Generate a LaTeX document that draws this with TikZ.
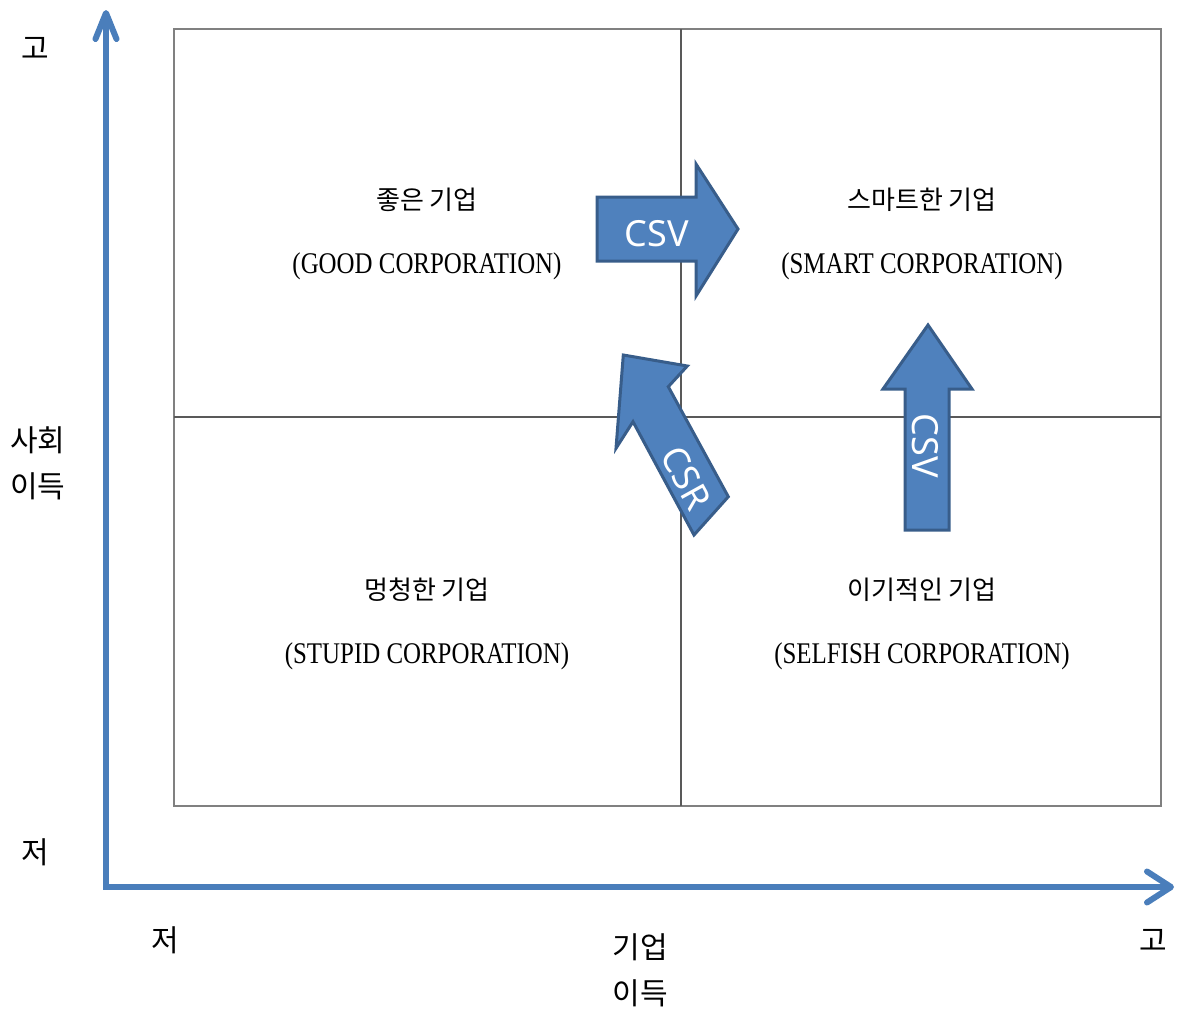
\documentclass[tikz,border=0pt]{standalone}
\usepackage{fontspec}
\setmainfont{Liberation Serif}
\newfontfamily\kr{Noto Sans CJK KR}
\newfontfamily\arw{Noto Sans}
\usetikzlibrary{arrows.meta}
\definecolor{bfill}{HTML}{4F81BD}
\definecolor{bline}{HTML}{385D8A}
\definecolor{axisblue}{HTML}{4A7EBB}
\tikzset{
  fatarrow/.style={fill=bfill, draw=bline, line width=3pt, line join=miter},
  arrowtext/.style={text=white, font=\arw\fontsize{36}{40}\selectfont, inner sep=0pt},
  axisline/.style={draw=axisblue, line width=6pt, line join=miter,
    {Straight Barb[length=26pt,width=21pt,line cap=round,line join=round]}-{Straight Barb[length=24pt,width=31pt,line cap=round,line join=round]}},
  outerbox/.style={draw=black!50, line width=1.5pt},
  grid/.style={draw=black!65, line width=1.5pt},
  krlab/.style={font=\kr\fontsize{26}{30}\selectfont, inner sep=0pt},
  enlab/.style={font=\fontsize{30}{34}\selectfont, inner sep=0pt, xscale=0.83},
  axlab/.style={font=\kr\fontsize{30}{46}\selectfont, inner sep=0pt, align=center}
}
\begin{document}
\begin{tikzpicture}[x=1pt,y=-1pt]
\useasboundingbox (0,0) rectangle (1181,1017);
% quadrant grid
\coordinate (BL) at (174,806);
\coordinate (TR) at (1161,29);
\coordinate (Vt) at (681,29);
\coordinate (Vb) at (681,806);
\coordinate (Hl) at (174,417);
\coordinate (Hr) at (1161,417);
\draw[outerbox] (BL) rectangle (TR);
\draw[grid] (Vt) -- (Vb);
\draw[grid] (Hl) -- (Hr);
% axes
\coordinate (O) at (106,887);
\coordinate (Ytip) at (106,10);
\coordinate (Xtip) at (1174,887);
\draw[axisline] (Ytip) -- (O) -- (Xtip);
% axis labels
\node[axlab] (yhi) at (35,48) {고};
\node[axlab] (ylab) at (38,463) {사회\\이득};
\node[axlab] (ylo) at (35,852) {저};
\node[axlab] (xlo) at (165,940) {저};
\node[axlab] (xlab) at (640,970) {기업\\이득};
\node[axlab] (xhi) at (1153,940) {고};
% quadrant labels
\node[krlab] (goodk) at (427,200) {좋은 기업};
\node[enlab] (goode) at (427,266) {(GOOD CORPORATION)};
\node[krlab] (smartk) at (922,200) {스마트한 기업};
\node[enlab] (smarte) at (922,266) {(SMART CORPORATION)};
\node[krlab] (stupk) at (427,590) {멍청한 기업};
\node[enlab] (stupe) at (427,656) {(STUPID CORPORATION)};
\node[krlab] (selfk) at (922,590) {이기적인 기업};
\node[enlab] (selfe) at (922,656) {(SELFISH CORPORATION)};
% CSV right arrow
\draw[fatarrow] (597,197) -- (696,197) -- (696,164) -- (738,229) -- (696,296) -- (696,261) -- (597,261) -- cycle;
\node[arrowtext] (csv1) at (657,234) {CSV};
% CSV up arrow
\draw[fatarrow] (905,530) -- (905,389) -- (883,389) -- (928,325) -- (972,389) -- (949,389) -- (949,530) -- cycle;
\node[arrowtext, rotate=-90] (csv2) at (925,446) {CSV};
% CSR diagonal arrow
\draw[fatarrow] (694,535) -- (633,421.7) -- (616,448.3) -- (623.3,355) -- (687.3,366) -- (668.3,386.7) -- (728.3,496.7) -- cycle;
\node[arrowtext, rotate=-61] (csr) at (686,478) {CSR};
\end{tikzpicture}
\end{document}
